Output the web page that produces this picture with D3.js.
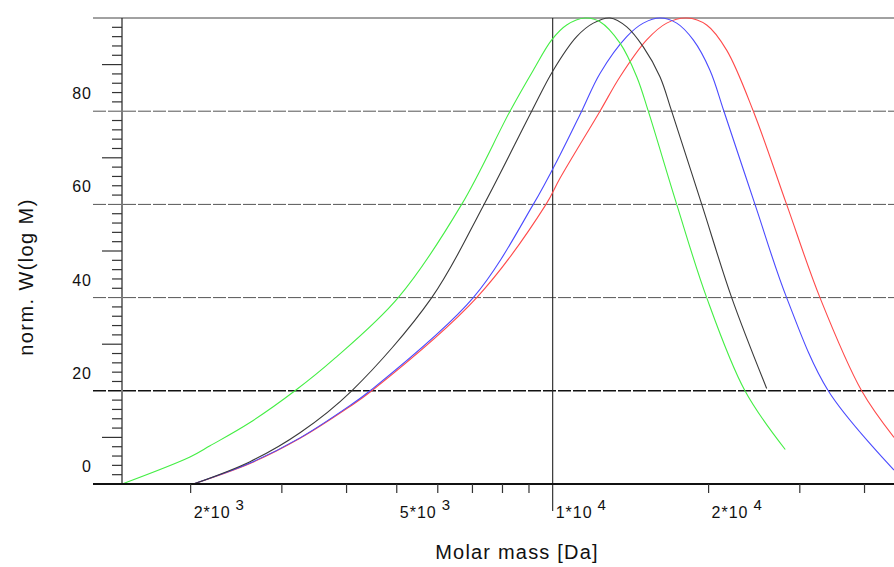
<!DOCTYPE html>
<html>
<head>
<meta charset="utf-8">
<script src="https://cdn.jsdelivr.net/npm/d3@7"></script>
<style>
  html, body { margin: 0; padding: 0; background: #fff; overflow: hidden; }
  svg { display: block; }
  text { font-family: "Liberation Sans", Arial, sans-serif; fill: #111; }
</style>
</head>
<body>
<svg id="chart"></svg>
<script>
var width = 894;
var height = 567;

// molar mass [Da] / norm. W(log M)
var greenM = [1474, 1994, 2180, 2604, 3180, 3799, 5033, 6672, 8272, 9174, 9957, 10642, 11545, 12340, 13490, 14530, 15296, 17356, 19830, 23508, 28120];
var greenW = [0, 5.8, 8.2, 13.2, 20, 27, 40, 60, 80, 88.8, 95.3, 98.5, 100, 99.2, 94.6, 87.4, 80, 60, 40, 20, 7.4];

var blackM = [2024, 2604, 3252, 4093, 5841, 7370, 9108, 10027, 11125, 11979, 12900, 13900, 14960, 16110, 16970, 19400, 22160, 25890];
var blackW = [0, 4.8, 11.0, 20, 40, 60, 80, 88.8, 96, 98.9, 100, 98.1, 93.8, 87.4, 80, 60, 40, 20.5];

var blueM = [2024, 2604, 3252, 4031, 4440, 7026, 9174, 10330, 11376, 12340, 13900, 14960, 16110, 17356, 18680, 20120, 21410, 24580, 28290, 34040, 45600];
var blueW = [0, 4.5, 9.9, 16.6, 20, 40, 60, 70.6, 80, 88.1, 96, 98.9, 100, 98.9, 95.3, 88.8, 80, 60, 40, 20, 3];

var redM = [2024, 2604, 3252, 4031, 4474, 7134, 9708, 10330, 12340, 13490, 15188, 16600, 18150, 19830, 21670, 24400, 28290, 32810, 39490, 45600];
var redW = [0, 4.4, 9.8, 16.4, 20, 40, 60, 65.6, 80, 87.4, 95.3, 98.9, 100, 98.5, 93.1, 80, 60, 40, 20, 10];

var gridValues = [20, 40, 60, 80];
var yLabels = [0, 20, 40, 60, 80];
var xMinorTicks = [2000, 3000, 4000, 5000, 6000, 7000, 8000, 9000, 20000, 30000, 40000];
var xLabelTicks = [[2000, "2*10", "3"], [5000, "5*10", "3"], [10000, "1*10", "4"], [20000, "2*10", "4"]];

var plot = { left: 122, top: 18, bottom: 484, right: 894 };

var x = d3.scaleLog().domain([1474, 45600]).range([plot.left, plot.right]);
var y = d3.scaleLinear().domain([0, 100]).range([plot.bottom, plot.top]);

var svg = d3.select('#chart')
    .attr('width', width)
    .attr('height', height);

svg.append('clipPath').attr('id', 'clip')
  .append('rect')
    .attr('x', plot.left)
    .attr('y', plot.top - 1)
    .attr('width', plot.right - plot.left)
    .attr('height', plot.bottom - plot.top + 1);

// dashed grid
svg.selectAll('line.grid').data(gridValues)
  .enter().append('line')
    .attr('class', 'grid')
    .attr('x1', 93).attr('x2', width)
    .attr('y1', d => y(d)).attr('y2', d => y(d))
    .attr('stroke', d => d == 20 ? '#111' : '#555')
    .attr('stroke-width', d => d == 20 ? 1.6 : 1)
    .attr('stroke-dasharray', '13,2');

// top border
svg.append('line')
    .attr('x1', 93).attr('x2', width)
    .attr('y1', y(100)).attr('y2', y(100))
    .attr('stroke', '#444').attr('stroke-width', 1);

// vertical line at 1e4
svg.append('line')
    .attr('x1', x(10000)).attr('x2', x(10000))
    .attr('y1', y(100)).attr('y2', 511)
    .attr('stroke', '#222').attr('stroke-width', 1.1);

// curves
var line = d3.line()
    .x(d => x(d[0]))
    .y(d => y(d[1]))
    .curve(d3.curveCatmullRom.alpha(0.5));

var series = [
    { m: redM, w: redW, color: '#ff4a4a' },
    { m: blueM, w: blueW, color: '#4a4aff' },
    { m: blackM, w: blackW, color: '#3a3a3a' },
    { m: greenM, w: greenW, color: '#44ee44' }
];

var curves = svg.append('g').attr('clip-path', 'url(#clip)');
series.forEach(s => {
    curves.append('path')
        .datum(d3.zip(s.m, s.w))
        .attr('d', line)
        .attr('fill', 'none')
        .attr('stroke', s.color)
        .attr('stroke-width', 1.1);
});

// y axis
svg.append('line')
    .attr('x1', plot.left).attr('x2', plot.left)
    .attr('y1', plot.top).attr('y2', plot.bottom)
    .attr('stroke', '#222').attr('stroke-width', 1.2);

var yTicks = d3.range(2, 100, 2).filter(v => v % 20 != 0);
svg.selectAll('line.ytick').data(yTicks)
  .enter().append('line')
    .attr('class', 'ytick')
    .attr('x1', d => d % 10 == 0 ? 102 : 112)
    .attr('x2', plot.left)
    .attr('y1', d => y(d)).attr('y2', d => y(d))
    .attr('stroke', '#333').attr('stroke-width', 1.2);

svg.selectAll('text.ylab').data(yLabels)
  .enter().append('text')
    .attr('class', 'ylab')
    .attr('x', 92)
    .attr('y', d => y(d) - 12)
    .attr('text-anchor', 'end')
    .attr('font-size', 16)
    .attr('letter-spacing', 1)
    .text(d => d);

// x axis
svg.append('line')
    .attr('x1', 93).attr('x2', width)
    .attr('y1', plot.bottom).attr('y2', plot.bottom)
    .attr('stroke', '#111').attr('stroke-width', 2);

svg.selectAll('line.xtick').data(xMinorTicks)
  .enter().append('line')
    .attr('class', 'xtick')
    .attr('x1', d => x(d)).attr('x2', d => x(d))
    .attr('y1', plot.bottom).attr('y2', plot.bottom + 9)
    .attr('stroke', '#333').attr('stroke-width', 1.2);

var xl = svg.selectAll('text.xlab').data(xLabelTicks)
  .enter().append('text')
    .attr('class', 'xlab')
    .attr('x', d => x(d[0]) + 3)
    .attr('y', 518)
    .attr('font-size', 16)
    .attr('letter-spacing', 1);
xl.append('tspan').text(d => d[1]);
xl.append('tspan')
    .attr('dx', 5).attr('dy', -8)
    .attr('font-size', 15)
    .text(d => d[2]);

// axis titles
svg.append('text')
    .attr('x', 517).attr('y', 559)
    .attr('text-anchor', 'middle')
    .attr('font-size', 20)
    .attr('letter-spacing', 1.2)
    .text('Molar mass [Da]');

svg.append('text')
    .attr('transform', 'translate(33,277) rotate(-90)')
    .attr('text-anchor', 'middle')
    .attr('font-size', 20)
    .attr('letter-spacing', 1.4)
    .text('norm. W(log M)');
</script>
</body>
</html>
